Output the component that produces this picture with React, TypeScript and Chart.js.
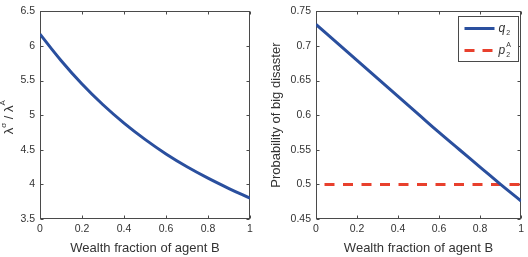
import React, { useEffect, useRef } from 'react';
import { Chart, registerables } from 'chart.js';

Chart.register(...registerables);

// ---------- data ----------
const wealthFraction = [0, 0.1, 0.2, 0.3, 0.4, 0.5, 0.6, 0.7, 0.8, 0.9, 1.0];
const lambdaRatio = [6.17, 5.79, 5.45, 5.15, 4.885, 4.65, 4.44, 4.255, 4.09, 3.94, 3.8];
const q2Values = [0.731, 0.705, 0.679, 0.653, 0.627, 0.601, 0.575, 0.55, 0.525, 0.5, 0.476];
const p2AValues = [0.5, 0.5, 0.5, 0.5, 0.5, 0.5, 0.5, 0.5, 0.5, 0.5, 0.5];

const xTicks = [0, 0.2, 0.4, 0.6, 0.8, 1];
const leftYTicks = [3.5, 4, 4.5, 5, 5.5, 6, 6.5];
const rightYTicks = [0.45, 0.5, 0.55, 0.6, 0.65, 0.7, 0.75];

const xTitle = 'Wealth fraction of agent B';
const rightYTitle = 'Probability of big disaster';

// ---------- styles ----------
const FONT = '"Liberation Sans", Arial, Helvetica, sans-serif';
const AXIS_COLOR = '#4a4a4a';
const TEXT_COLOR = '#333333';
const BLUE = '#2a4f9e';
const RED = '#e8402d';

const fmt = (v: number) => String(Number(v.toFixed(3)));

const toPoints = (xs: number[], ys: number[]) => xs.map((x, i) => ({ x, y: ys[i] }));

const framePlugin = {
  id: 'matlabFrame',
  beforeDatasetsDraw(chart: any) {
    const { ctx, chartArea, scales } = chart;
    const left = Math.round(chartArea.left) + 0.5;
    const right = Math.round(chartArea.right) - 0.5;
    const top = Math.round(chartArea.top) + 0.5;
    const bottom = Math.round(chartArea.bottom) - 0.5;
    ctx.save();
    ctx.strokeStyle = AXIS_COLOR;
    ctx.lineWidth = 1;
    ctx.strokeRect(left, top, right - left, bottom - top);
    const tl = 3;
    ctx.beginPath();
    for (const t of scales.x.ticks) {
      const px = Math.round(scales.x.getPixelForValue(t.value)) + 0.5;
      ctx.moveTo(px, bottom);
      ctx.lineTo(px, bottom - tl);
      ctx.moveTo(px, top);
      ctx.lineTo(px, top + tl);
    }
    for (const t of scales.y.ticks) {
      const py = Math.round(scales.y.getPixelForValue(t.value)) + 0.5;
      ctx.moveTo(left, py);
      ctx.lineTo(left + tl, py);
      ctx.moveTo(right, py);
      ctx.lineTo(right - tl, py);
    }
    ctx.stroke();
    ctx.restore();
  },
};

const leftTitlePlugin = {
  id: 'leftTitle',
  afterDraw(chart: any) {
    const { ctx, chartArea } = chart;
    const cy = (chartArea.top + chartArea.bottom) / 2 + 2;
    const cx = 8;
    ctx.save();
    ctx.translate(cx, cy);
    ctx.rotate(-Math.PI / 2);
    ctx.fillStyle = TEXT_COLOR;
    ctx.textBaseline = 'middle';
    ctx.textAlign = 'left';
    const big = `13px ${FONT}`;
    const small = `8px ${FONT}`;
    const parts: [string, string, number][] = [
      ['λ', big, 0],
      ['σ', small, -5],
      [' / ', big, 0],
      ['λ', big, 0],
      ['A', small, -6],
    ];
    let w = 0;
    for (const [t, f] of parts) {
      ctx.font = f;
      w += ctx.measureText(t).width;
    }
    let x = -w / 2;
    for (const [t, f, dy] of parts) {
      ctx.font = f;
      ctx.fillText(t, x, dy + 1);
      x += ctx.measureText(t).width;
    }
    ctx.restore();
  },
};

const legendPlugin = {
  id: 'customLegend',
  afterDraw(chart: any) {
    const { ctx, chartArea } = chart;
    const bw = 60;
    const bh = 45;
    const bx = Math.round(chartArea.right - 3 - bw) + 0.5;
    const by = Math.round(chartArea.top + 5) + 0.5;
    ctx.save();
    ctx.fillStyle = '#ffffff';
    ctx.fillRect(bx, by, bw, bh);
    ctx.strokeStyle = AXIS_COLOR;
    ctx.lineWidth = 1;
    ctx.strokeRect(bx, by, bw, bh);
    const y1 = by + 12;
    const y2 = by + 34;
    ctx.lineWidth = 3;
    ctx.strokeStyle = BLUE;
    ctx.beginPath();
    ctx.moveTo(bx + 6, y1);
    ctx.lineTo(bx + 36, y1);
    ctx.stroke();
    ctx.strokeStyle = RED;
    ctx.setLineDash([10, 8]);
    ctx.beginPath();
    ctx.moveTo(bx + 6, y2);
    ctx.lineTo(bx + 36, y2);
    ctx.stroke();
    ctx.setLineDash([]);
    ctx.fillStyle = TEXT_COLOR;
    ctx.textAlign = 'left';
    ctx.textBaseline = 'alphabetic';
    ctx.font = `italic 12px ${FONT}`;
    ctx.fillText('q', bx + 40, y1 + 3);
    const qw = ctx.measureText('q').width;
    ctx.fillText('p', bx + 40, y2 + 3);
    const pw = ctx.measureText('p').width;
    ctx.font = `7px ${FONT}`;
    ctx.fillText('2', bx + 41 + qw, y1 + 6);
    ctx.fillText('2', bx + 41 + pw, y2 + 6);
    ctx.fillText('A', bx + 41 + pw, y2 - 4);
    ctx.restore();
  },
};

function makeOptions(yTicks: number[], yWidth: number, padRight: number, showYTitle: boolean) {
  return {
    responsive: false,
    animation: false as const,
    layout: { padding: { top: 7, right: padRight, left: 0, bottom: 0 } },
    plugins: { legend: { display: false }, tooltip: { enabled: false } },
    elements: { point: { radius: 0 } },
    scales: {
      x: {
        type: 'linear' as const,
        min: xTicks[0],
        max: xTicks[xTicks.length - 1],
        grid: { display: false, drawTicks: false },
        border: { display: false },
        afterBuildTicks: (s: any) => {
          s.ticks = xTicks.map((v) => ({ value: v }));
        },
        afterFit: (s: any) => {
          s.height = 38;
        },
        ticks: {
          padding: 4,
          color: TEXT_COLOR,
          font: { size: 10.5, family: FONT },
          maxRotation: 0,
          autoSkip: false,
          callback: (v: any) => fmt(Number(v)),
        },
        title: {
          display: true,
          text: xTitle,
          color: TEXT_COLOR,
          font: { size: 13, family: FONT },
          padding: { top: 0, bottom: 1 },
        },
      },
      y: {
        type: 'linear' as const,
        min: yTicks[0],
        max: yTicks[yTicks.length - 1],
        grid: { display: false, drawTicks: false },
        border: { display: false },
        afterBuildTicks: (s: any) => {
          s.ticks = yTicks.map((v) => ({ value: v }));
        },
        afterFit: (s: any) => {
          s.width = yWidth;
        },
        ticks: {
          padding: 5,
          color: TEXT_COLOR,
          font: { size: 10.5, family: FONT },
          autoSkip: false,
          callback: (v: any) => fmt(Number(v)),
        },
        title: {
          display: showYTitle,
          text: rightYTitle,
          color: TEXT_COLOR,
          font: { size: 13, family: FONT },
          padding: { top: 5, bottom: 0 },
        },
      },
    },
  };
}

function LeftChart() {
  const ref = useRef<HTMLCanvasElement>(null);
  useEffect(() => {
    if (!ref.current) return;
    const chart = new Chart(ref.current, {
      type: 'line',
      data: {
        datasets: [
          {
            data: toPoints(wealthFraction, lambdaRatio),
            borderColor: BLUE,
            borderWidth: 3,
            tension: 0.4,
            pointRadius: 0,
          },
        ],
      },
      options: makeOptions(leftYTicks, 40, 14, false) as any,
      plugins: [framePlugin, leftTitlePlugin],
    });
    return () => chart.destroy();
  }, []);
  return <canvas ref={ref} width={264} height={257} style={{ display: 'block' }} />;
}

function RightChart() {
  const ref = useRef<HTMLCanvasElement>(null);
  useEffect(() => {
    if (!ref.current) return;
    const chart = new Chart(ref.current, {
      type: 'line',
      data: {
        datasets: [
          {
            label: 'q2',
            data: toPoints(wealthFraction, q2Values),
            borderColor: BLUE,
            borderWidth: 3,
            tension: 0.4,
            pointRadius: 0,
          },
          {
            label: 'p2A',
            data: toPoints(wealthFraction, p2AValues),
            borderColor: RED,
            borderWidth: 3,
            borderDash: [10, 8.5],
            borderDashOffset: 10,
            pointRadius: 0,
          },
        ],
      },
      options: makeOptions(rightYTicks, 52, 2, true) as any,
      plugins: [framePlugin, legendPlugin],
    });
    return () => chart.destroy();
  }, []);
  return <canvas ref={ref} width={264} height={257} style={{ display: 'block' }} />;
}

export default function App() {
  useEffect(() => {
    document.body.style.margin = '0';
    document.body.style.background = '#ffffff';
  }, []);
  return (
    <div style={{ display: 'flex', width: 528, height: 257, background: '#fff' }}>
      <LeftChart />
      <RightChart />
    </div>
  );
}
